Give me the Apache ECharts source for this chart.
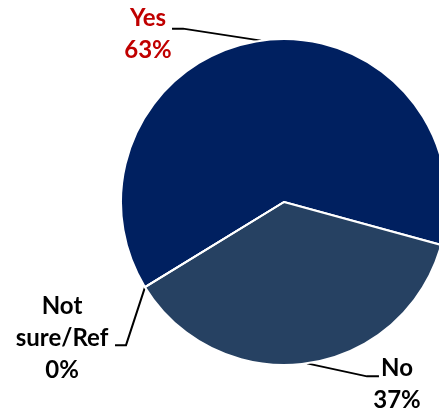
<!DOCTYPE html>
<html>
<head>
<meta charset="utf-8">
<style>
  html, body { margin: 0; padding: 0; background: #fff; }
  #main { width: 439px; height: 411px; }
</style>
<script src="https://cdn.jsdelivr.net/npm/echarts@6/dist/echarts.min.js"></script>
</head>
<body>
<div id="main"></div>
<script>
// answers and shares (%)
var categories = ['Yes', 'No', 'Not sure/Ref'];
var labelNames = ['Yes', 'No', 'Not\nsure/Ref'];
var values = [63, 37, 0];
var sliceColors = ['#002060', '#264162', '#8eb4e3'];
var labelColors = ['#c00000', '#000000', '#000000'];

// label placement relative to the slice's edge point (leader bend, leader end, text centre)
var labelOffsets = [
  { bend: [-78, -12], end: [-89, -12], text: [-113, -6] },
  { bend: [60, 13], end: [72, 13], text: [90, 21] },
  { bend: [-19, 58], end: [-30, 58], text: [-83, 51] }
];

var chart = echarts.init(document.getElementById('main'));

var option = {
  animation: false,
  series: [
    {
      type: 'pie',
      center: [284, 202],
      radius: [0, 163],
      startAngle: 211.5,
      clockwise: true,
      avoidLabelOverlap: false,
      itemStyle: {
        borderColor: '#ffffff',
        borderWidth: 2
      },
      label: {
        show: true,
        position: 'outside',
        fontFamily: 'Lato',
        fontWeight: 'bold',
        fontSize: 24,
        lineHeight: 32,
        align: 'center',
        formatter: function (p) {
          return labelNames[p.dataIndex] + '\n' + p.value + '%';
        }
      },
      labelLine: {
        show: true,
        length: 20,
        length2: 10,
        lineStyle: { color: '#000000', width: 2 }
      },
      labelLayout: function (params) {
        var o = labelOffsets[params.dataIndex];
        var p0 = params.labelLinePoints ? params.labelLinePoints[0] : [0, 0];
        return {
          x: p0[0] + o.text[0],
          y: p0[1] + o.text[1],
          align: 'center',
          verticalAlign: 'middle',
          labelLinePoints: [
            p0,
            [p0[0] + o.bend[0], p0[1] + o.bend[1]],
            [p0[0] + o.end[0], p0[1] + o.end[1]]
          ]
        };
      },
      data: categories.map(function (c, i) {
        return {
          name: c,
          value: values[i],
          itemStyle: { color: sliceColors[i] },
          label: { color: labelColors[i] }
        };
      })
    }
  ]
};

chart.setOption(option);
</script>
</body>
</html>
